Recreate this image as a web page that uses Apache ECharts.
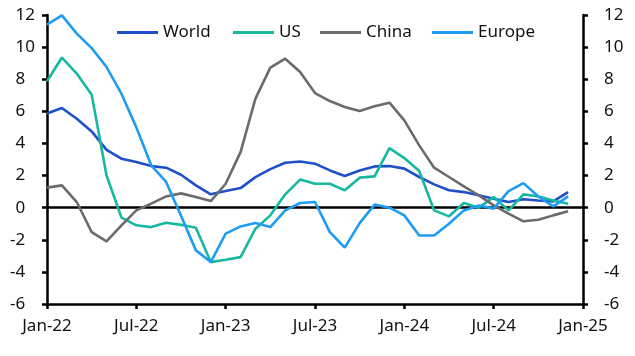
<!DOCTYPE html>
<html><head><meta charset="utf-8">
<script src="https://cdn.jsdelivr.net/npm/echarts@6/dist/echarts.min.js"></script>
<style>html,body{margin:0;padding:0;background:#fff}#c{width:635px;height:356px}</style>
</head><body><div id="c"></div>
<script>
const months = ['Jan-22','Feb-22','Mar-22','Apr-22','May-22','Jun-22','Jul-22','Aug-22','Sep-22','Oct-22','Nov-22','Dec-22',
'Jan-23','Feb-23','Mar-23','Apr-23','May-23','Jun-23','Jul-23','Aug-23','Sep-23','Oct-23','Nov-23','Dec-23',
'Jan-24','Feb-24','Mar-24','Apr-24','May-24','Jun-24','Jul-24','Aug-24','Sep-24','Oct-24','Nov-24','Dec-24','Jan-25'];
const world = [5.86,6.21,5.54,4.75,3.6,3.05,2.84,2.59,2.49,2.05,1.39,0.83,1.04,1.22,1.9,2.4,2.8,2.88,2.74,2.32,1.97,2.32,2.57,2.59,2.43,1.91,1.45,1.08,0.97,0.77,0.56,0.35,0.52,0.45,0.39,0.97];
const us = [7.87,9.35,8.35,7.04,2.0,-0.62,-1.1,-1.21,-0.94,-1.07,-1.25,-3.39,-3.24,-3.08,-1.31,-0.48,0.83,1.75,1.49,1.49,1.08,1.87,1.95,3.71,3.09,2.28,-0.17,-0.54,0.29,0.0,0.66,-0.17,0.83,0.70,0.45,0.25];
const china = [1.25,1.39,0.35,-1.52,-2.1,-1.1,-0.17,0.25,0.7,0.89,0.66,0.41,1.49,3.46,6.79,8.72,9.28,8.45,7.14,6.64,6.27,6.02,6.31,6.54,5.44,3.88,2.49,1.91,1.33,0.77,0.14,-0.37,-0.85,-0.75,-0.48,-0.23];
const europe = [11.4,11.98,10.84,9.94,8.76,7.1,5.0,2.64,1.6,-0.5,-2.66,-3.39,-1.62,-1.17,-0.96,-1.21,-0.17,0.29,0.35,-1.52,-2.49,-0.96,0.19,0.0,-0.48,-1.73,-1.73,-1.0,-0.17,0.14,-0.06,1.03,1.53,0.7,0.08,0.7];
const names = ['World','US','China','Europe'];
const colors = ['#1f50c9','#17b8a0','#6b6b6b','#1f9bf2'];
const legendLeft = [112,228,315,427];

const FONT = 'Noto Sans';
const chart = echarts.init(document.getElementById('c'), null, {renderer:'canvas'});
const axisLineStyle = {color:'#000', width:2.5};
const yBase = {
  type:'value', min:-6, max:12, interval:2,
  axisLine:{show:true, lineStyle:axisLineStyle},
  axisTick:{show:true, length:5, lineStyle:axisLineStyle},
  splitLine:{show:false}
};
chart.setOption({
  animation:false,
  textStyle:{fontFamily:FONT},
  grid:{left:47, right:52, top:15, bottom:52, containLabel:false, outerBoundsMode:'none'},
  legend: names.map((n,i)=>({
    data:[n], left:legendLeft[i], top:19, icon:'rect', itemWidth:41, itemHeight:3, itemGap:5,
    textStyle:{fontFamily:FONT, fontSize:17, color:'#111'}
  })),
  xAxis:[{
    type:'category', data:months, boundaryGap:false,
    axisLine:{show:true, onZero:false, lineStyle:axisLineStyle},
    axisTick:{show:true, interval:5, length:5, lineStyle:axisLineStyle},
    axisLabel:{interval:5, fontFamily:FONT, fontSize:17, color:'#111', margin:14},
    splitLine:{show:false}
  },{
    type:'category', data:months, boundaryGap:false, position:'bottom',
    axisLine:{show:true, onZero:true, lineStyle:axisLineStyle},
    axisTick:{show:false}, axisLabel:{show:false}, splitLine:{show:false}
  }],
  yAxis:[Object.assign({}, yBase, {
    position:'left',
    axisLabel:{fontFamily:FONT, fontSize:17, color:'#111', margin:12,
      formatter:v=> Math.abs(v)<10 ? String(v)+'\u2007' : String(v)}
  }), Object.assign({}, yBase, {
    position:'right',
    axisLabel:{fontFamily:FONT, fontSize:17, color:'#111', margin:21}
  })],
  series: [world, us, china, europe].map((d,i)=>({
    name:names[i], type:'line', data:d, symbol:'none', smooth:false,
    xAxisIndex:0, yAxisIndex:0,
    lineStyle:{width:2.6, color:colors[i]}, itemStyle:{color:colors[i]}, z:3+i
  }))
});
</script></body></html>
